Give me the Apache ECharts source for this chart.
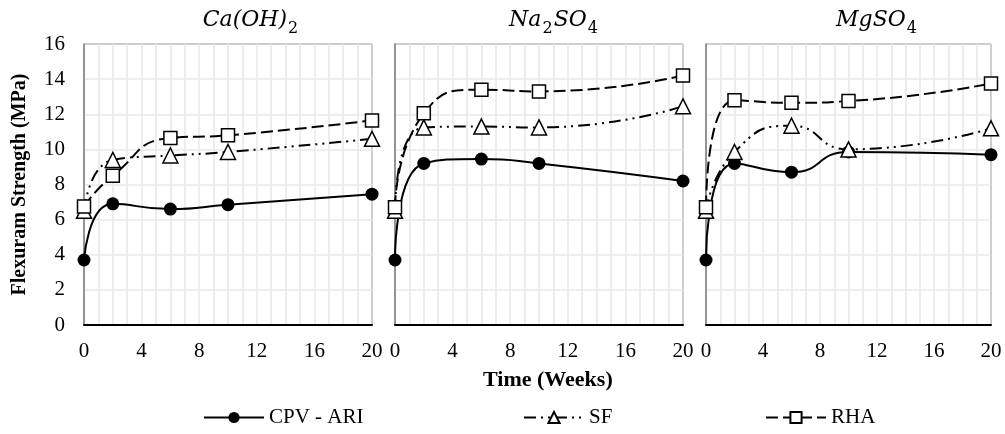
<!DOCTYPE html>
<html>
<head>
<meta charset="utf-8">
<script src="https://cdn.jsdelivr.net/npm/echarts@6/dist/echarts.min.js"></script>
<style>
  html,body{margin:0;padding:0;background:#fff;}
  #chart{width:1005px;height:434px;}
</style>
</head>
<body>
<div id="chart"></div>
<script>
var weeks = [0, 2, 6, 10, 20];
var xTicks = [0, 4, 8, 12, 16, 20];
var yTicks = [0, 2, 4, 6, 8, 10, 12, 14, 16];
var seriesNames = ['CPV - ARI', 'SF', 'RHA'];
// titles as rich text: {n|...} normal, {s|...} subscript
var panelTitles = ['{n|Ca(OH)}{s|2}', '{n|Na}{s|2}{n|SO}{s|4}', '{n|MgSO}{s|4}'];

// Ca(OH)2
var caCPV = [3.7, 6.9, 6.6, 6.85, 7.45];
var caSF = [6.5, 9.4, 9.65, 9.85, 10.6];
var caRHA = [6.75, 8.5, 10.65, 10.8, 11.65];
// Na2SO4
var naCPV = [3.7, 9.2, 9.45, 9.2, 8.2];
var naSF = [6.5, 11.25, 11.3, 11.25, 12.45];
var naRHA = [6.7, 12.05, 13.4, 13.3, 14.2];
// MgSO4
var mgCPV = [3.7, 9.2, 8.7, 9.85, 9.7];
var mgSF = [6.5, 9.85, 11.35, 10.0, 11.2];
var mgRHA = [6.7, 12.8, 12.65, 12.75, 13.75];

var panels = [
  {cpv: caCPV, sf: caSF, rha: caRHA, left: 84, width: 288, titleX: 246},
  {cpv: naCPV, sf: naSF, rha: naRHA, left: 395, width: 288, titleX: 549},
  {cpv: mgCPV, sf: mgSF, rha: mgRHA, left: 706, width: 285, titleX: 872}
];

var serif = 'Liberation Serif';
var gridColor = '#e8e8e8';

function pairs(vals) {
  var out = [];
  for (var i = 0; i < weeks.length; i++) {
    out.push([weeks[i], vals[i]]);
  }
  return out;
}

var titleRich = {
  n: {fontFamily: 'DejaVu Serif', fontStyle: 'italic', fontWeight: 'normal', fontSize: 22, color: '#000', padding: [0, 0, 6, 0], verticalAlign: 'bottom'},
  s: {fontFamily: 'DejaVu Serif', fontWeight: 'normal', fontSize: 16, color: '#000', verticalAlign: 'bottom', padding: [0, 1, 0, 1]}
};

var grids = [], xAxes = [], yAxes = [], series = [], titles = [];

panels.forEach(function (p, i) {
  grids.push({
    left: p.left, width: p.width, top: 44, bottom: 109,
    show: true, borderColor: '#000', borderWidth: 1
  });
  titles.push({
    text: panelTitles[i],
    left: p.titleX, top: 4, textAlign: 'center',
    textStyle: {fontWeight: 'normal', rich: titleRich}
  });
  xAxes.push({
    gridIndex: i, type: 'value', min: 0, max: 20, interval: 4,
    axisLine: {show: true, lineStyle: {color: '#000', width: 2}},
    axisTick: {show: false},
    axisLabel: {fontFamily: serif, fontSize: 21, color: '#000', margin: 16},
    splitLine: {show: true, lineStyle: {color: gridColor, width: 1.5}},
    minorTick: {show: false, splitNumber: 4},
    minorSplitLine: {show: true, lineStyle: {color: gridColor, width: 1.5}}
  });
  yAxes.push({
    gridIndex: i, type: 'value', min: 0, max: 16, interval: 2,
    axisLine: {show: true, lineStyle: {color: '#808080', width: 1.5}},
    axisTick: {show: false},
    axisLabel: {show: i === 0, fontFamily: serif, fontSize: 21, color: '#000', margin: 19},
    splitLine: {show: true, lineStyle: {color: gridColor, width: 1.5}},
    name: i === 0 ? 'Flexuram Strength (MPa)' : '',
    nameLocation: 'middle', nameGap: 54,
    nameTextStyle: {fontFamily: serif, fontWeight: 'bold', fontSize: 20, color: '#000'}
  });
  series.push({
    name: seriesNames[0], type: 'line', xAxisIndex: i, yAxisIndex: i,
    data: pairs(p.cpv), smooth: 0.55, clip: false,
    symbol: 'circle', symbolSize: 13,
    itemStyle: {color: '#000'},
    lineStyle: {color: '#000', width: 2, type: 'solid'}
  });
  series.push({
    name: seriesNames[1], type: 'line', xAxisIndex: i, yAxisIndex: i,
    data: pairs(p.sf), smooth: 0.55, clip: false,
    symbol: 'triangle', symbolSize: 15,
    itemStyle: {color: '#fff', borderColor: '#000', borderWidth: 1.5},
    lineStyle: {color: '#000', width: 2, type: [12, 5, 2, 5, 2, 5]}
  });
  series.push({
    name: seriesNames[2], type: 'line', xAxisIndex: i, yAxisIndex: i,
    data: pairs(p.rha), smooth: 0.55, clip: false,
    symbol: 'rect', symbolSize: 13,
    itemStyle: {color: '#fff', borderColor: '#000', borderWidth: 1.5},
    lineStyle: {color: '#000', width: 2, type: [12, 5]}
  });
});

var legendText = {fontFamily: serif, fontSize: 21, color: '#000'};
var legendX = [198, 518, 760];
var legends = seriesNames.map(function (n, k) {
  return {
    data: [n], left: legendX[k], top: 402,
    itemWidth: 60, itemHeight: 14, itemGap: 6,
    textStyle: legendText, selectedMode: false
  };
});

var chart = echarts.init(document.getElementById('chart'));
var option = {
  animation: false,
  backgroundColor: '#fff',
  title: titles,
  grid: grids,
  xAxis: xAxes,
  yAxis: yAxes,
  legend: legends,
  series: series,
  graphic: [{
    type: 'text', left: 483, top: 369,
    style: {text: 'Time (Weeks)', fontFamily: serif, fontWeight: 'bold', fontSize: 22, fill: '#000'}
  }]
};
chart.setOption(option);
</script>
</body>
</html>
